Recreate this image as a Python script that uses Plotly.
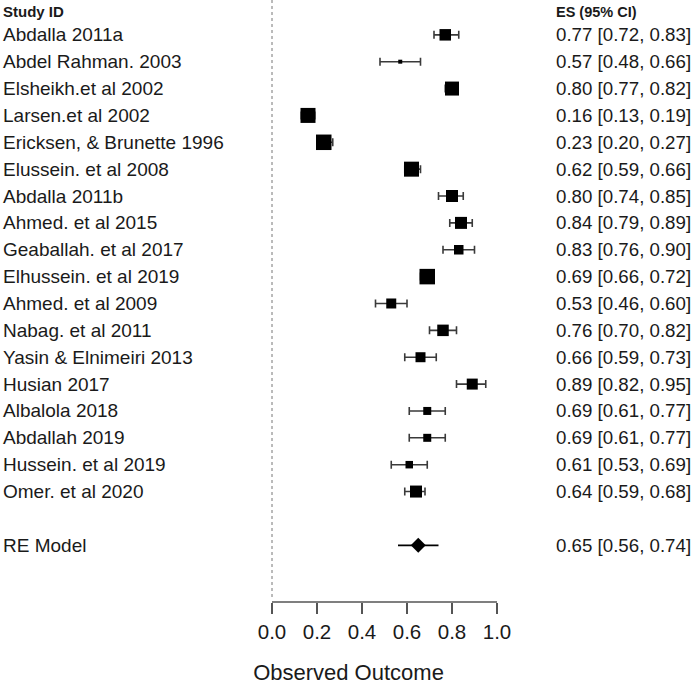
import plotly.graph_objects as go

studies = ["Abdalla 2011a", "Abdel Rahman. 2003", "Elsheikh.et al 2002", "Larsen.et al 2002",
           "Ericksen, & Brunette 1996", "Elussein. et al 2008", "Abdalla 2011b", "Ahmed. et al 2015",
           "Geaballah. et al 2017", "Elhussein. et al 2019", "Ahmed. et al 2009", "Nabag. et al 2011",
           "Yasin & Elnimeiri 2013", "Husian 2017", "Albalola 2018", "Abdallah 2019",
           "Hussein. et al 2019", "Omer. et al 2020"]
es = [0.77, 0.57, 0.80, 0.16, 0.23, 0.62, 0.80, 0.84, 0.83, 0.69, 0.53, 0.76, 0.66, 0.89, 0.69, 0.69, 0.61, 0.64]
lo = [0.72, 0.48, 0.77, 0.13, 0.20, 0.59, 0.74, 0.79, 0.76, 0.66, 0.46, 0.70, 0.59, 0.82, 0.61, 0.61, 0.53, 0.59]
hi = [0.83, 0.66, 0.82, 0.19, 0.27, 0.66, 0.85, 0.89, 0.90, 0.72, 0.60, 0.82, 0.73, 0.95, 0.77, 0.77, 0.69, 0.68]
weights = [11.5, 4, 14, 15, 15.5, 15, 12, 12, 9.5, 15.5, 10, 11.5, 10, 11, 8, 8, 7.5, 12]

re_label = "RE Model"
re_es, re_lo, re_hi = 0.65, 0.56, 0.74

xticks = [0.0, 0.2, 0.4, 0.6, 0.8, 1.0]
xtick_text = ["0.0", "0.2", "0.4", "0.6", "0.8", "1.0"]
x_title = "Observed Outcome"
left_header = "Study ID"
right_header = "ES (95% CI)"

FONT = "Liberation Sans, Arial, sans-serif"
TXT = "#1a1a1a"
W, H = 697, 685
x0px, unit = 272, 225
row0, step = 35, 27
axis_px = 605

n = len(studies)
rows = list(range(n))
re_row = n + 1

fig = go.Figure()

# reference line at 0
fig.add_shape(type="line", x0=0, x1=0, y0=-row0 / step, y1=(600 - row0) / step,
              line=dict(color="#777", width=1, dash="dot"), layer="below")

# study CIs (drawn first so squares sit on top)
fig.add_trace(go.Scatter(
    x=es, y=rows, mode="markers",
    marker=dict(size=1, color="rgba(0,0,0,0)"),
    error_x=dict(type="data", symmetric=False,
                 array=[h - e for h, e in zip(hi, es)],
                 arrayminus=[e - l for e, l in zip(es, lo)],
                 color="#3a3a3a", thickness=1.6, width=4),
    showlegend=False, hoverinfo="skip"))

# study squares
fig.add_trace(go.Scatter(
    x=es, y=rows, mode="markers",
    marker=dict(symbol="square", size=weights, color="black", opacity=1, line=dict(width=0)),
    showlegend=False, hoverinfo="skip"))

# RE model
fig.add_trace(go.Scatter(
    x=[re_es], y=[re_row], mode="markers",
    marker=dict(symbol="diamond", size=11.5, color="black", opacity=1, line=dict(width=0)),
    error_x=dict(type="data", symmetric=False, array=[re_hi - re_es], arrayminus=[re_es - re_lo],
                 color="black", thickness=1.8, width=0),
    showlegend=False, hoverinfo="skip"))

# axis line 0..1
fig.add_shape(type="line", x0=xticks[0], x1=xticks[-1], y0=0, y1=0, xref="x", yref="paper",
              line=dict(color="#555", width=1.5))

# labels
lab_font = dict(family=FONT, size=19, color=TXT)
val_font = dict(family=FONT, size=18.7, color=TXT)
for i, s in enumerate(studies):
    fig.add_annotation(x=1 / W, xref="paper", y=i, yref="y", text=s, showarrow=False,
                       xanchor="left", yanchor="middle", font=lab_font)
    fig.add_annotation(x=554 / W, xref="paper", y=i, yref="y",
                       text=f"{es[i]:.2f} [{lo[i]:.2f}, {hi[i]:.2f}]", showarrow=False,
                       xanchor="left", yanchor="middle", font=val_font)
fig.add_annotation(x=1 / W, xref="paper", y=re_row, yref="y", text=re_label, showarrow=False,
                   xanchor="left", yanchor="middle", font=lab_font)
fig.add_annotation(x=554 / W, xref="paper", y=re_row, yref="y",
                   text=f"{re_es:.2f} [{re_lo:.2f}, {re_hi:.2f}]", showarrow=False,
                   xanchor="left", yanchor="middle", font=val_font)
fig.add_annotation(x=1 / W, xref="paper", y=(12 - row0) / step, yref="y", text=f"<b>{left_header}</b>",
                   showarrow=False, xanchor="left", yanchor="middle", font=dict(family=FONT, size=15, color=TXT))
fig.add_annotation(x=554 / W, xref="paper", y=(12 - row0) / step, yref="y", text=f"<b>{right_header}</b>",
                   showarrow=False, xanchor="left", yanchor="middle", font=dict(family=FONT, size=14.5, color=TXT))

fig.update_layout(
    width=W, height=H,
    margin=dict(l=0, r=0, t=0, b=H - axis_px, pad=0),
    plot_bgcolor="white", paper_bgcolor="white",
    xaxis=dict(range=[-x0px / unit, (W - x0px) / unit], tickvals=xticks, ticktext=xtick_text,
               ticks="outside", ticklen=11, tickwidth=1.5, tickcolor="#555",
               showgrid=False, zeroline=False, showline=False,
               tickfont=dict(family=FONT, size=20.5, color=TXT),
               title=dict(text=x_title, font=dict(family=FONT, size=22, color=TXT), standoff=27)),
    yaxis=dict(range=[(axis_px - row0) / step, -row0 / step], visible=False, showgrid=False, zeroline=False),
)

fig.write_html("out.html", config={"displayModeBar": False},
               post_script="document.body.style.margin='0';document.body.style.overflow='hidden';")
